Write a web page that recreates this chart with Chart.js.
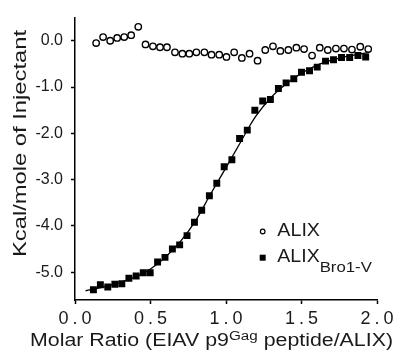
<!DOCTYPE html>
<html><head><meta charset="utf-8">
<script src="https://cdn.jsdelivr.net/npm/chart.js@4"></script>
<style>html,body{margin:0;padding:0;background:#fff}#wrap{width:396px;height:354px}</style>
</head><body><div id="wrap"><canvas id="c" width="396" height="354"></canvas></div>
<script>
// ---- data ----
const alixX = [0.140,0.186,0.233,0.279,0.326,0.372,0.419,0.467,0.516,0.563,0.609,0.662,0.711,0.757,0.804,0.857,0.904,0.955,1.003,1.054,1.105,1.156,1.209,1.260,1.311,1.360,1.413,1.466,1.517,1.570,1.621,1.674,1.728,1.781,1.834,1.889,1.942];
const alixY = [-0.05,0.08,0.00,0.06,0.08,0.12,0.30,-0.08,-0.12,-0.14,-0.14,-0.25,-0.28,-0.28,-0.25,-0.25,-0.30,-0.30,-0.35,-0.25,-0.37,-0.28,-0.43,-0.20,-0.12,-0.22,-0.20,-0.15,-0.18,-0.32,-0.15,-0.20,-0.17,-0.17,-0.19,-0.13,-0.18];
const broX = [0.122,0.168,0.217,0.264,0.310,0.357,0.405,0.452,0.498,0.547,0.596,0.645,0.693,0.742,0.791,0.839,0.890,0.939,0.988,1.039,1.090,1.141,1.191,1.243,1.294,1.347,1.398,1.449,1.500,1.553,1.604,1.659,1.712,1.765,1.819,1.874,1.925];
const broY = [-5.38,-5.27,-5.32,-5.26,-5.25,-5.13,-5.08,-5.01,-5.01,-4.78,-4.68,-4.50,-4.41,-4.21,-3.92,-3.66,-3.35,-3.08,-2.72,-2.57,-2.11,-1.93,-1.50,-1.30,-1.27,-1.03,-0.91,-0.82,-0.68,-0.65,-0.57,-0.44,-0.41,-0.36,-0.36,-0.32,-0.35];
const fitX = [0.07,0.2,0.3,0.4,0.5,0.6,0.7,0.8,0.9,1.0,1.1,1.15,1.2,1.3,1.4,1.5,1.6,1.7,1.8,1.9,1.95];
const fitY = [-5.40,-5.31,-5.22,-5.10,-4.93,-4.67,-4.33,-3.88,-3.30,-2.74,-2.17,-1.88,-1.62,-1.22,-0.93,-0.70,-0.53,-0.42,-0.34,-0.28,-0.25];
const xTicks = [0, 0.5, 1.0, 1.5, 2.0];
const yTicks = [-5, -4, -3, -2, -1, 0];
const xTitle = ['Molar Ratio (EIAV p9', 'Gag', ' peptide/ALIX)'];
const yTitle = 'Kcal/mole of Injectant';
const legendMain = ['ALIX', 'ALIX'];
const legendSub = ['', 'Bro1-V'];

const FONT = '"Liberation Sans", Arial, sans-serif';
const INK = '#1a1a1a';

function pts(xs, ys){ return xs.map((x,i)=>({x:x, y:ys[i]})); }

// draw a run of text segments, stretched horizontally to a target width
function drawSegments(ctx, segs, x0, baseline, targetW){
  let w = 0;
  segs.forEach(s=>{ ctx.font = s.font; s.w = ctx.measureText(s.text).width; w += s.w; });
  const sx = targetW ? targetW / w : 1;
  ctx.save();
  ctx.translate(x0, baseline);
  ctx.scale(sx, 1);
  let cx = 0;
  segs.forEach(s=>{ ctx.font = s.font; ctx.fillText(s.text, cx, s.dy||0); cx += s.w; });
  ctx.restore();
}

const decor = {
  id: 'decor',
  afterDraw(chart){
    const ctx = chart.ctx;
    const xs = chart.scales.x;
    ctx.save();
    ctx.fillStyle = INK;
    ctx.textBaseline = 'alphabetic';
    ctx.textAlign = 'left';
    // x tick labels, spaced out
    const spacing = 4;
    ctx.font = '18px ' + FONT;
    xTicks.forEach(v=>{
      const label = v.toFixed(1);
      const chars = label.split('');
      const ws = chars.map(c=>ctx.measureText(c).width);
      const total = ws.reduce((a,b)=>a+b,0) + spacing*(chars.length-1);
      let cx = xs.getPixelForValue(v) - total/2;
      chars.forEach((c,i)=>{ ctx.fillText(c, cx, 324); cx += ws[i] + spacing; });
    });
    // x title with superscript
    drawSegments(ctx, [
      {text:xTitle[0], font:'17.5px '+FONT},
      {text:xTitle[1], font:'12.5px '+FONT, dy:-6.5},
      {text:xTitle[2], font:'17.5px '+FONT}
    ], 30, 346, 363);
    // y title rotated
    ctx.save();
    ctx.translate(26, 257);
    ctx.rotate(-Math.PI/2);
    drawSegments(ctx, [{text:yTitle, font:'17.5px '+FONT}], 0, 0, 227);
    ctx.restore();
    // legend
    ctx.strokeStyle = '#000';
    ctx.lineWidth = 1.2;
    ctx.beginPath(); ctx.arc(262.7, 231.5, 2.3, 0, Math.PI*2); ctx.stroke();
    ctx.fillStyle = '#000';
    ctx.fillRect(259.7, 254.7, 6, 6);
    ctx.fillStyle = INK;
    drawSegments(ctx, [{text:legendMain[0], font:'17.5px '+FONT}], 277.3, 235.5, 42.7);
    drawSegments(ctx, [
      {text:legendMain[1], font:'17.5px '+FONT},
      {text:legendSub[1], font:'15px '+FONT, dy:10.5}
    ], 277.3, 261.5, 94.5);
    ctx.restore();
  }
};

new Chart(document.getElementById('c'), {
  type: 'scatter',
  data: {
    datasets: [
      { label:'fit', data: pts(fitX, fitY), showLine:true, borderColor:'#000', borderWidth:1.3,
        pointRadius:0, cubicInterpolationMode:'monotone', fill:false, order:3 },
      { label:'ALIX', data: pts(alixX, alixY), pointStyle:'circle', pointRadius:3.2,
        borderColor:'#000', borderWidth:1.4, backgroundColor:'#fff', showLine:false, order:2 },
      { label:'ALIX Bro1-V', data: pts(broX, broY), pointStyle:'rect', pointRadius:4.9,
        borderColor:'#000', borderWidth:0, backgroundColor:'#000', showLine:false, order:1 }
    ]
  },
  options: {
    responsive:false, animation:false, devicePixelRatio:1,
    layout:{ padding:{ top:10, right:19, left:0, bottom:0 } },
    plugins:{ legend:{display:false}, tooltip:{enabled:false} },
    scales:{
      x:{ type:'linear', min:0, max:2,
        afterBuildTicks: s => { s.ticks = xTicks.map(v=>({value:v})); },
        afterFit: s => { s.height = 54; },
        ticks:{ display:false },
        grid:{ drawOnChartArea:false, drawTicks:true, tickLength:4, tickColor:'#000', tickWidth:1.5 },
        border:{ color:'#000', width:1.5 }
      },
      y:{ type:'linear', min:-5.6, max:0.5,
        afterBuildTicks: s => { s.ticks = yTicks.map(v=>({value:v})); },
        afterFit: s => { s.width = 75; },
        ticks:{ color:INK, font:{ family:FONT, size:16 }, padding:8, callback: v => Number(v).toFixed(1) },
        grid:{ drawOnChartArea:false, drawTicks:true, tickLength:4, tickColor:'#000', tickWidth:1.5 },
        border:{ color:'#000', width:1.5 }
      }
    }
  },
  plugins:[decor]
});
</script>
</body></html>
